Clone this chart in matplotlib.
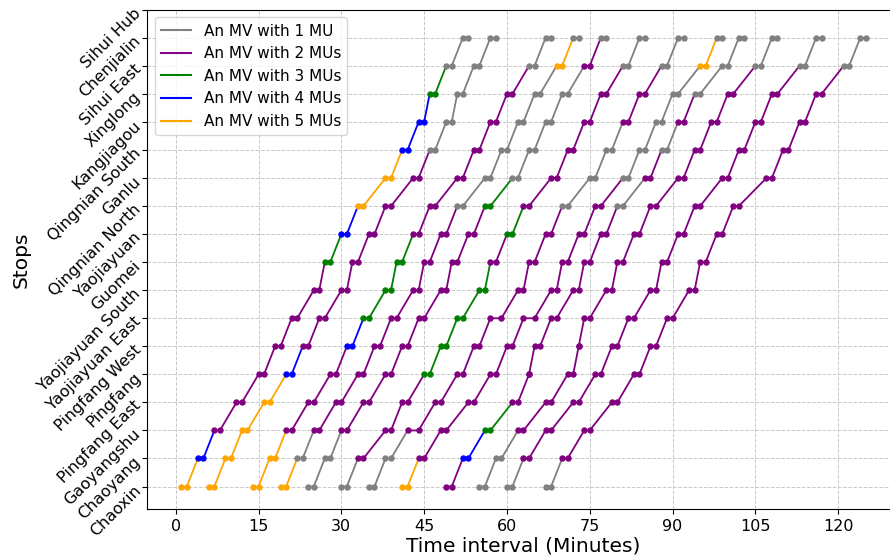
import matplotlib
matplotlib.use("Agg")
import matplotlib.pyplot as plt
from matplotlib.lines import Line2D

# stops from bottom (index 0) to top
stops = ["Chaoxin", "Chaoyang", "Gaoyangshu", "Pingfang East", "Pingfang",
         "Pingfang West", "Yaojiayuan East", "Yaojiayuan South", "Guomei",
         "Yaojiayuan", "Qingnian North", "Ganlu", "Qingnian South",
         "Kangjiagou", "Xinglong", "Sihui East", "Chenjialin", "Sihui Hub"]

mu_colors = {1: "gray", 2: "purple", 3: "green", 4: "blue", 5: "orange"}
mu_labels = {1: "An MV with 1 MU", 2: "An MV with 2 MUs", 3: "An MV with 3 MUs",
             4: "An MV with 4 MUs", 5: "An MV with 5 MUs"}

# arrival / departure time (min) of each vehicle at each stop
arrivals = [
    [1, 4, 7, 11, 15, 18, 21, 25, 27, 30, 33, 38, 41, 44, 46, 49, 52],
    [6, 9, 12, 16, 20, 23, 26, 30, 32, 35, 38, 43, 46, 49, 51, 54, 57],
    [14, 17, 20, 24, 28, 31, 34, 38, 40, 43, 46, 51, 54, 57, 60, 64, 67],
    [19, 22, 25, 29, 33, 36, 39, 43, 45, 48, 51, 56, 59, 62, 65, 69, 72],
    [24, 27, 30, 34, 38, 41, 44, 48, 50, 53, 56, 61, 64, 67, 70, 74, 77],
    [30, 33, 38, 41, 45, 48, 51, 55, 57, 60, 63, 68, 71, 74, 77, 81, 84],
    [35, 38, 42, 47, 51, 54, 57, 62, 64, 67, 70, 75, 78, 81, 84, 88, 91],
    [41, 44, 48, 53, 57, 60, 63, 68, 70, 73, 76, 81, 84, 87, 90, 95, 98],
    [49, 52, 56, 61, 64, 65, 68, 72, 74, 77, 80, 85, 88, 91, 94, 99, 102],
    [55, 58, 62, 67, 71, 73, 74, 78, 80, 83, 86, 91, 94, 97, 100, 105, 108],
    [60, 63, 67, 72, 76, 79, 82, 86, 88, 91, 94, 99, 102, 105, 108, 113, 116],
    [67, 70, 74, 79, 83, 86, 89, 93, 95, 98, 101, 107, 110, 113, 116, 121, 124],
]
departures = [
    [2, 5, 8, 12, 16, 19, 22, 26, 28, 31, 34, 39, 42, 45, 47, 50, 53],
    [7, 10, 13, 17, 21, 24, 27, 31, 33, 36, 39, 44, 47, 50, 52, 55, 58],
    [15, 18, 21, 25, 29, 32, 35, 39, 41, 44, 47, 52, 55, 58, 61, 65, 68],
    [20, 23, 26, 30, 34, 37, 40, 44, 46, 49, 52, 57, 60, 63, 66, 70, 73],
    [25, 28, 31, 35, 39, 42, 45, 49, 51, 54, 57, 62, 65, 68, 71, 75, 78],
    [31, 34, 39, 42, 46, 49, 52, 56, 58, 61, 64, 69, 72, 75, 78, 82, 85],
    [36, 39, 44, 48, 52, 55, 59, 63, 65, 68, 71, 76, 79, 82, 85, 89, 92],
    [42, 45, 49, 54, 58, 61, 65, 69, 71, 74, 77, 82, 85, 88, 91, 96, 99],
    [50, 53, 57, 62, 64, 66, 69, 73, 75, 78, 81, 86, 89, 92, 95, 100, 103],
    [56, 59, 63, 68, 72, 73, 75, 79, 81, 84, 87, 92, 95, 98, 101, 106, 109],
    [61, 64, 68, 73, 77, 80, 83, 87, 89, 92, 95, 100, 103, 106, 109, 114, 117],
    [68, 71, 75, 80, 84, 87, 90, 94, 96, 99, 102, 108, 111, 114, 117, 122, 125],
]
# number of MUs leaving each stop
units = [
    [5, 4, 2, 2, 2, 2, 2, 2, 3, 4, 5, 5, 4, 4, 3, 1, 1],
    [5, 5, 5, 5, 4, 2, 2, 2, 2, 2, 2, 2, 1, 1, 1, 1, 1],
    [5, 5, 2, 2, 2, 4, 3, 3, 3, 2, 2, 2, 2, 2, 2, 1, 1],
    [5, 1, 2, 2, 2, 2, 2, 2, 2, 2, 1, 1, 1, 1, 1, 5, 1],
    [1, 1, 2, 2, 2, 2, 2, 2, 2, 2, 3, 1, 1, 1, 1, 2, 1],
    [1, 2, 2, 2, 3, 3, 3, 3, 2, 3, 2, 2, 2, 2, 2, 1, 1],
    [1, 1, 2, 2, 2, 2, 2, 2, 2, 2, 1, 1, 1, 2, 2, 1, 1],
    [5, 2, 2, 2, 2, 2, 2, 2, 2, 2, 2, 1, 1, 1, 1, 5, 1],
    [2, 4, 3, 2, 2, 2, 2, 2, 2, 2, 1, 2, 1, 2, 1, 1, 1],
    [1, 1, 2, 2, 2, 2, 2, 2, 2, 2, 2, 2, 2, 2, 2, 1, 1],
    [1, 2, 2, 2, 2, 2, 2, 2, 2, 2, 2, 2, 2, 2, 2, 1, 1],
    [1, 2, 2, 2, 2, 2, 2, 2, 2, 2, 2, 2, 2, 2, 2, 1, 1],
]

fig = plt.figure(figsize=(8.9, 5.59), dpi=100)
ax = fig.add_axes([0.1652, 0.0895, 0.846, 0.893])

for arr, dep, mus in zip(arrivals, departures, units):
    n = len(arr)
    for k in range(n):
        color = mu_colors[mus[k]]
        xs = [arr[k], dep[k]]
        ys = [k, k]
        if k < n - 1:
            xs.append(arr[k + 1])
            ys.append(k + 1)
        ax.plot(xs, ys, color=color, linewidth=1.3, marker="o",
                markersize=3.6, markevery=[0, 1])

ax.set_yticks(range(len(stops)))
ax.set_yticklabels(stops, rotation=45, ha="right", rotation_mode="anchor", fontsize=11.5)
ax.set_xticks(range(0, 121, 15))
ax.tick_params(axis="x", labelsize=11.5)
ax.set_xlim(-5.2, 131.2)
ax.set_ylim(-0.8, 17)
ax.grid(True, linestyle="--", color="#c8c8c8", linewidth=0.7)
ax.set_axisbelow(True)

ax.set_xlabel("Time interval (Minutes)", fontsize=14.5, labelpad=2)
ax.set_ylabel("Stops", fontsize=14.5)

handles = [Line2D([0], [0], color=mu_colors[m], linewidth=1.5) for m in sorted(mu_colors)]
ax.legend(handles, [mu_labels[m] for m in sorted(mu_colors)], loc="upper left", fontsize=11)

fig.savefig("out.png", dpi=100)
